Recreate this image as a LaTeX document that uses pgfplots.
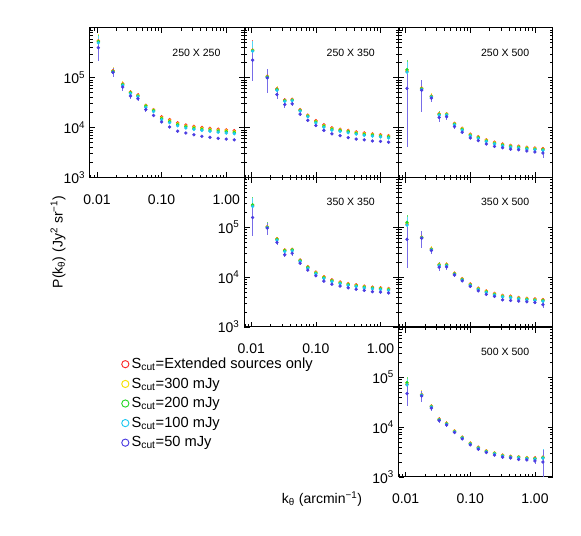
\documentclass[border=0pt]{standalone}
\usepackage{fontspec}
\setmainfont{Liberation Sans}
\usepackage{pgfplots}
\usepackage{pgfplotstable}
\pgfplotsset{compat=1.18}

\definecolor{cR}{RGB}{250,40,40}
\definecolor{cY}{RGB}{245,225,0}
\definecolor{cG}{RGB}{40,215,40}
\definecolor{cC}{RGB}{30,200,240}
\definecolor{cB}{RGB}{75,60,225}

% 250 X 250
\pgfplotstableread{
k R Y G C B eR eB
0.0105 5.5e5 5.4e5 5.3e5 5.0e5 4.0e5 2.0e5 1.8e5
0.0177 1.38e5 1.36e5 1.34e5 1.29e5 1.28e5 2.5e4 2.5e4
0.025 7.6e4 7.45e4 7.3e4 7.0e4 6.5e4 1.0e4 1.0e4
0.033 5.2e4 5.1e4 5.0e4 4.8e4 4.3e4 6e3 6e3
0.043 4.5e4 4.4e4 4.3e4 4.15e4 3.8e4 4e3 4e3
0.057 2.8e4 2.75e4 2.7e4 2.55e4 2.3e4 2e3 2e3
0.075 2.3e4 2.25e4 2.2e4 2.1e4 1.75e4 1.5e3 1.5e3
0.1 1.65e4 1.58e4 1.52e4 1.44e4 1.3e4 8e2 8e2
0.133 1.45e4 1.39e4 1.33e4 1.26e4 1.03e4 6e2 5e2
0.177 1.25e4 1.2e4 1.15e4 1.09e4 8.5e3 4e2 4e2
0.237 1.13e4 1.08e4 1.04e4 9.8e3 7.8e3 3e2 3e2
0.316 1.06e4 1.02e4 9.75e3 9.2e3 7.2e3 3e2 2e2
0.42 1.01e4 9.7e3 9.3e3 8.8e3 6.7e3 2e2 2e2
0.56 9.7e3 9.3e3 8.9e3 8.45e3 6.4e3 2e2 2e2
0.75 9.3e3 8.9e3 8.55e3 8.1e3 6.1e3 2e2 2e2
1.0 9.0e3 8.65e3 8.3e3 7.8e3 5.9e3 2e2 2e2
1.33 8.7e3 8.35e3 8.0e3 7.55e3 5.7e3 2e2 2e2
}\tblA
% 250 X 350
\pgfplotstableread{
k R Y G C B eR eB
0.0105 3.6e5 3.55e5 3.5e5 3.4e5 2.25e5 2.0e5 1.4e5
0.0177 1.07e5 1.05e5 1.04e5 1.0e5 9.9e4 2.5e4 5.0e4
0.025 6.0e4 5.9e4 5.8e4 5.6e4 4.6e4 8e3 8e3
0.033 3.6e4 3.5e4 3.45e4 3.35e4 2.9e4 4e3 4e3
0.043 3.7e4 3.6e4 3.55e4 3.45e4 3.0e4 3e3 3e3
0.057 2.3e4 2.25e4 2.2e4 2.15e4 1.86e4 1.5e3 1.5e3
0.075 1.78e4 1.74e4 1.7e4 1.65e4 1.4e4 1e3 1e3
0.1 1.38e4 1.34e4 1.3e4 1.24e4 1.1e4 6e2 6e2
0.133 1.14e4 1.1e4 1.07e4 1.02e4 8.8e3 4e2 4e2
0.177 9.9e3 9.6e3 9.3e3 8.9e3 7.5e3 3e2 3e2
0.237 9.3e3 9.0e3 8.75e3 8.4e3 6.9e3 3e2 3e2
0.316 8.8e3 8.55e3 8.3e3 7.9e3 6.3e3 2e2 2e2
0.42 8.2e3 7.95e3 7.7e3 7.4e3 5.9e3 2e2 2e2
0.56 7.8e3 7.55e3 7.35e3 7.0e3 5.7e3 2e2 2e2
0.75 7.5e3 7.3e3 7.05e3 6.75e3 5.4e3 2e2 2e2
1.0 7.2e3 7.0e3 6.75e3 6.5e3 5.3e3 2e2 2e2
1.33 6.9e3 6.7e3 6.5e3 6.2e3 5.1e3 2e2 2e2
}\tblB
% 250 X 500
\pgfplotstableread{
k R Y G C B eR eB
0.0105 1.35e5 1.4e5 1.45e5 1.3e5 6.1e4 8e4 5.7e4
0.0177 6.2e4 6.1e4 6.0e4 5.8e4 5.6e4 2.5e4 3.5e4
0.025 4.3e4 4.25e4 4.2e4 4.1e4 3.9e4 6e3 6e3
0.033 1.9e4 1.87e4 1.83e4 1.78e4 1.6e4 3e3 3e3
0.043 1.9e4 1.87e4 1.83e4 1.78e4 1.65e4 2e3 2e3
0.057 1.22e4 1.2e4 1.17e4 1.13e4 1.05e4 1e3 1e3
0.075 9.7e3 9.5e3 9.25e3 8.9e3 8.1e3 6e2 6e2
0.1 7.4e3 7.25e3 7.05e3 6.8e3 6.2e3 4e2 4e2
0.133 6.6e3 6.45e3 6.3e3 6.05e3 5.5e3 3e2 3e2
0.177 5.7e3 5.6e3 5.4e3 5.25e3 4.7e3 2e2 2e2
0.237 5.1e3 5.0e3 4.85e3 4.7e3 4.2e3 2e2 2e2
0.316 4.7e3 4.6e3 4.45e3 4.3e3 3.95e3 2e2 2e2
0.42 4.4e3 4.3e3 4.2e3 4.05e3 3.7e3 2e2 2e2
0.56 4.25e3 4.15e3 4.05e3 3.9e3 3.6e3 2e2 2e2
0.75 4.05e3 3.95e3 3.85e3 3.7e3 3.4e3 2e2 2e2
1.0 3.9e3 3.8e3 3.7e3 3.6e3 3.25e3 2e2 2e2
1.33 3.8e3 3.7e3 3.6e3 3.5e3 3.1e3 3e2 6e2
}\tblC
% 350 X 350
\pgfplotstableread{
k R Y G C B eR eB
0.0105 2.7e5 2.75e5 2.8e5 2.6e5 1.56e5 1.2e5 9e4
0.0177 1.02e5 1.01e5 1.0e5 9.8e4 9.6e4 2.5e4 2.5e4
0.025 5.9e4 5.8e4 5.7e4 5.5e4 4.95e4 6e3 6e3
0.033 3.5e4 3.45e4 3.4e4 3.25e4 2.8e4 3e3 3e3
0.043 3.6e4 3.55e4 3.5e4 3.35e4 3.0e4 3e3 3e3
0.057 2.2e4 2.17e4 2.13e4 2.05e4 1.9e4 1.5e3 1.5e3
0.075 1.62e4 1.59e4 1.56e4 1.5e4 1.38e4 8e2 8e2
0.1 1.26e4 1.23e4 1.2e4 1.16e4 1.06e4 5e2 5e2
0.133 1.02e4 1.0e4 9.7e3 9.35e3 8.3e3 4e2 4e2
0.177 8.8e3 8.6e3 8.4e3 8.1e3 7.2e3 3e2 3e2
0.237 8.0e3 7.8e3 7.6e3 7.35e3 6.6e3 2e2 2e2
0.316 7.4e3 7.25e3 7.05e3 6.8e3 6.1e3 2e2 2e2
0.42 7.0e3 6.85e3 6.65e3 6.45e3 5.7e3 2e2 2e2
0.56 6.6e3 6.45e3 6.3e3 6.05e3 5.4e3 2e2 2e2
0.75 6.3e3 6.15e3 6.0e3 5.8e3 5.1e3 2e2 2e2
1.0 6.1e3 5.95e3 5.8e3 5.6e3 5.0e3 2e2 2e2
1.33 5.9e3 5.75e3 5.6e3 5.4e3 4.8e3 2e2 2e2
}\tblD
% 350 X 500
\pgfplotstableread{
k R Y G C B eR eB
0.0105 1.15e5 1.2e5 1.25e5 1.1e5 5.7e4 5e4 4.2e4
0.0177 6.3e4 6.25e4 6.2e4 6.1e4 6.0e4 1.5e4 2.2e4
0.025 3.7e4 3.65e4 3.6e4 3.5e4 3.4e4 5e3 5e3
0.033 1.8e4 1.77e4 1.74e4 1.68e4 1.58e4 2.5e3 2.5e3
0.043 1.8e4 1.77e4 1.74e4 1.68e4 1.6e4 2e3 2e3
0.057 1.2e4 1.18e4 1.16e4 1.13e4 1.1e4 8e2 8e2
0.075 9.3e3 9.15e3 8.95e3 8.7e3 8.4e3 5e2 5e2
0.1 7.3e3 7.15e3 7.0e3 6.8e3 6.5e3 4e2 4e2
0.133 6.0e3 5.9e3 5.75e3 5.6e3 5.3e3 3e2 3e2
0.177 5.3e3 5.2e3 5.05e3 4.9e3 4.5e3 2e2 2e2
0.237 4.7e3 4.6e3 4.5e3 4.35e3 4.1e3 2e2 2e2
0.316 4.3e3 4.2e3 4.1e3 4.0e3 3.5e3 2e2 2e2
0.42 4.15e3 4.05e3 3.95e3 3.85e3 3.4e3 2e2 2e2
0.56 3.9e3 3.8e3 3.72e3 3.62e3 3.3e3 2e2 2e2
0.75 3.75e3 3.67e3 3.58e3 3.48e3 3.2e3 2e2 2e2
1.0 3.65e3 3.57e3 3.48e3 3.38e3 3.1e3 2e2 2e2
1.33 3.55e3 3.47e3 3.38e3 3.28e3 2.8e3 3e2 4e2
}\tblE
% 500 X 500
\pgfplotstableread{
k R Y G C B eR eB
0.0105 7.2e4 7.6e4 7.8e4 7.0e4 4.7e4 2.2e4 2e4
0.0177 4.5e4 4.45e4 4.4e4 4.35e4 4.2e4 1e4 1e4
0.025 2.65e4 2.62e4 2.58e4 2.52e4 2.4e4 3e3 3e3
0.033 1.45e4 1.43e4 1.41e4 1.38e4 1.35e4 1.2e3 1.2e3
0.043 1.2e4 1.19e4 1.17e4 1.14e4 1.1e4 1e3 1e3
0.057 8.4e3 8.3e3 8.15e3 8.0e3 7.8e3 5e2 5e2
0.075 6.3e3 6.22e3 6.12e3 6.0e3 5.8e3 4e2 4e2
0.1 4.8e3 4.74e3 4.66e3 4.56e3 4.4e3 2e2 2e2
0.133 3.95e3 3.9e3 3.84e3 3.76e3 3.6e3 2e2 2e2
0.177 3.35e3 3.31e3 3.26e3 3.19e3 3.1e3 1.5e2 1.5e2
0.237 3.05e3 3.01e3 2.96e3 2.9e3 2.75e3 1.5e2 1.5e2
0.316 2.75e3 2.72e3 2.67e3 2.62e3 2.5e3 1.5e2 1.5e2
0.42 2.6e3 2.57e3 2.53e3 2.48e3 2.4e3 1.5e2 1.5e2
0.56 2.55e3 2.52e3 2.48e3 2.42e3 2.25e3 1.5e2 1.5e2
0.75 2.45e3 2.42e3 2.38e3 2.33e3 2.2e3 1.5e2 1.5e2
1.0 2.4e3 2.37e3 2.33e3 2.28e3 2.1e3 2e2 2.5e2
1.33 2.5e3 2.47e3 2.43e3 2.38e3 2.0e3 1.2e3 1.5e3
}\tblF

% shared look of every panel, set once for all axes
\pgfplotsset{
  scale only axis, width=115.7pt, height=112.3pt,
  xmin=0.0078, xmax=1.9, ymin=1e3, ymax=1e6,
  xtick={0.01,0.1,1},
  ytick={1e3,1e4,1e5},
  minor xtick={0.008,0.009,0.02,0.03,0.04,0.05,0.06,0.07,0.08,0.09,0.2,0.3,0.4,0.5,0.6,0.7,0.8,0.9},
  minor ytick={2e3,3e3,4e3,5e3,6e3,7e3,8e3,9e3,2e4,3e4,4e4,5e4,6e4,7e4,8e4,9e4,2e5,3e5,4e5,5e5,6e5,7e5,8e5,9e5},
  axis line style={line width=0.75pt},
  tick style={black, line width=0.5pt},
  major tick length=4pt, minor tick length=2.2pt,
  tick label style={font=\fontsize{10.5}{12}\selectfont},
  xticklabel style={yshift=-9pt},
}

\newcommand{\oneset}[4]{%
  \addplot[color=#1, only marks, mark=*, mark size=1.05pt, forget plot,
    error bars/.cd, y dir=both, y explicit, error mark=none,
    error bar style={color=#1!75, line width=0.6pt}]
    table[x=k, y=#2, y error=#3] {#4};
}
\newcommand{\fivesets}[1]{%
  \oneset{cR}{R}{eR}{#1}
  \oneset{cY}{Y}{eR}{#1}
  \oneset{cG}{G}{eR}{#1}
  \oneset{cC}{C}{eR}{#1}
  \oneset{cB}{B}{eB}{#1}
}
\newcommand{\ptitle}[1]{\node[font=\fontsize{7.9}{9}\selectfont] at (rel axis cs:0.69,0.833) {#1};}

\begin{document}
\begin{tikzpicture}
\path[use as bounding box] (0pt,0pt) rectangle (435.75pt,401.25pt);

% row 1
\begin{axis}[xmode=log, ymode=log, anchor=south west, at={(67.5pt,268.1pt)},
  xticklabels={0.01,0.10,1.00},
  yticklabels={10\textsuperscript{3},10\textsuperscript{4},10\textsuperscript{5}},
  legend style={at={(0.178,-1.167)}, anchor=north west, draw=none, fill=none,
    font=\fontsize{11}{13}\selectfont, row sep=1.5pt},
  legend cell align=left,
]
  \addlegendimage{only marks, mark=o, mark size=2.7pt, cR, line width=0.7pt}
  \addlegendentry{S\textsubscript{cut}=Extended sources only}
  \addlegendimage{only marks, mark=o, mark size=2.7pt, cY, line width=0.7pt}
  \addlegendentry{S\textsubscript{cut}=300 mJy}
  \addlegendimage{only marks, mark=o, mark size=2.7pt, cG, line width=0.7pt}
  \addlegendentry{S\textsubscript{cut}=200 mJy}
  \addlegendimage{only marks, mark=o, mark size=2.7pt, cC, line width=0.7pt}
  \addlegendentry{S\textsubscript{cut}=100 mJy}
  \addlegendimage{only marks, mark=o, mark size=2.7pt, cB, line width=0.7pt}
  \addlegendentry{S\textsubscript{cut}=50 mJy}
  \fivesets{\tblA}
  \ptitle{250 X 250}
\end{axis}
\begin{axis}[xmode=log, ymode=log, anchor=south west, at={(183.2pt,268.1pt)},
  xticklabels={}, yticklabels={}]
  \fivesets{\tblB}
  \ptitle{250 X 350}
\end{axis}
\begin{axis}[xmode=log, ymode=log, anchor=south west, at={(299.0pt,268.1pt)},
  xticklabels={}, yticklabels={}]
  \fivesets{\tblC}
  \ptitle{250 X 500}
\end{axis}

% row 2
\begin{axis}[xmode=log, ymode=log, anchor=south west, at={(183.2pt,156.0pt)},
  xticklabels={0.01,0.10,1.00},
  yticklabels={10\textsuperscript{3},10\textsuperscript{4},10\textsuperscript{5}}]
  \fivesets{\tblD}
  \ptitle{350 X 350}
\end{axis}
\begin{axis}[xmode=log, ymode=log, anchor=south west, at={(299.0pt,156.0pt)},
  xticklabels={}, yticklabels={}]
  \fivesets{\tblE}
  \ptitle{350 X 500}
\end{axis}

% row 3
\begin{axis}[xmode=log, ymode=log, anchor=south west, at={(299.0pt,43.5pt)},
  xticklabels={0.01,0.10,1.00},
  yticklabels={10\textsuperscript{3},10\textsuperscript{4},10\textsuperscript{5}}]
  \fivesets{\tblF}
  \ptitle{500 X 500}
\end{axis}

\node[rotate=90, font=\fontsize{10.5}{12}\selectfont] at (43.5pt,219.75pt)
  {P(k\textsubscript{θ}) (Jy\textsuperscript{2} sr\textsuperscript{−1})};
\node[font=\fontsize{10.5}{12}\selectfont] at (241.5pt,27pt)
  {k\textsubscript{θ} (arcmin\textsuperscript{−1})};
\end{tikzpicture}
\end{document}
